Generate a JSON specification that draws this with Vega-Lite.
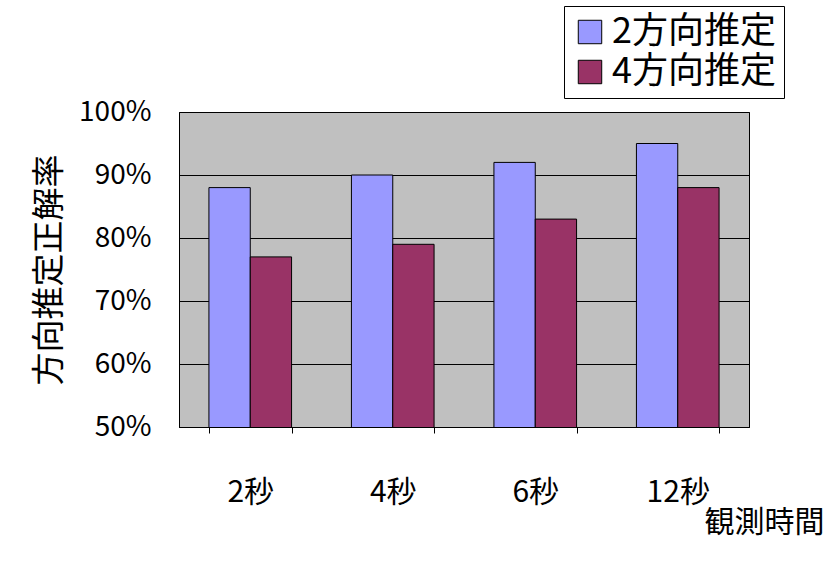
{
  "$schema": "https://vega.github.io/schema/vega-lite/v6.json",
  "autosize": "none",
  "width": 570,
  "height": 315,
  "padding": {"left": 179, "top": 112, "right": 79, "bottom": 134},
  "background": "white",
  "data": {
    "values": [
      {"time": "2秒", "series": "2方向推定", "rate": 88},
      {"time": "2秒", "series": "4方向推定", "rate": 77},
      {"time": "4秒", "series": "2方向推定", "rate": 90},
      {"time": "4秒", "series": "4方向推定", "rate": 79},
      {"time": "6秒", "series": "2方向推定", "rate": 92},
      {"time": "6秒", "series": "4方向推定", "rate": 83},
      {"time": "12秒", "series": "2方向推定", "rate": 95},
      {"time": "12秒", "series": "4方向推定", "rate": 88}
    ]
  },
  "mark": {"type": "bar", "stroke": "black", "strokeWidth": 1, "clip": true},
  "encoding": {
    "x": {
      "field": "time", "type": "nominal", "sort": null,
      "scale": {"paddingInner": 0.42, "paddingOuter": 0.21},
      "axis": {
        "title": "観測時間", "titleAnchor": "end", "titleAlign": "right", "titleFontSize": 30,
        "titleFontWeight": "normal", "titleX": 645, "titleY": 95, "titleBaseline": "middle",
        "labelAngle": 0, "labelFontSize": 30, "labelPadding": 44,
        "tickBand": "extent", "tickSize": 6, "tickColor": "black",
        "domainColor": "black", "labelColor": "black", "titleColor": "black"
      }
    },
    "xOffset": {"field": "series", "type": "nominal", "scale": {"paddingInner": 0}},
    "y": {
      "field": "rate", "type": "quantitative",
      "scale": {"domain": [50, 100], "nice": false, "zero": false},
      "axis": {
        "title": "方向推定正解率", "titleFontSize": 33, "titleFontWeight": "normal", "titleX": -113,
        "values": [50, 60, 70, 80, 90, 100], "labelExpr": "datum.value + '%'",
        "labelFontSize": 28, "labelPadding": 28, "ticks": false,
        "grid": true, "gridColor": "black", "domainColor": "black",
        "labelColor": "black", "titleColor": "black"
      }
    },
    "color": {
      "field": "series", "type": "nominal",
      "scale": {"range": ["#9999ff", "#993366"]},
      "legend": {
        "title": null, "orient": "none", "legendX": 385, "legendY": -106,
        "labelFontSize": 36, "symbolType": "square", "symbolSize": 550,
        "symbolStrokeColor": "black", "symbolStrokeWidth": 1, "labelColor": "black",
        "rowPadding": 4, "padding": 8, "strokeColor": "black", "fillColor": "white",
        "labelLimit": 300
      }
    }
  },
  "config": {
    "font": "Liberation Sans Narrow, Noto Sans CJK JP",
    "view": {"fill": "#c0c0c0", "stroke": "black"}
  }
}
